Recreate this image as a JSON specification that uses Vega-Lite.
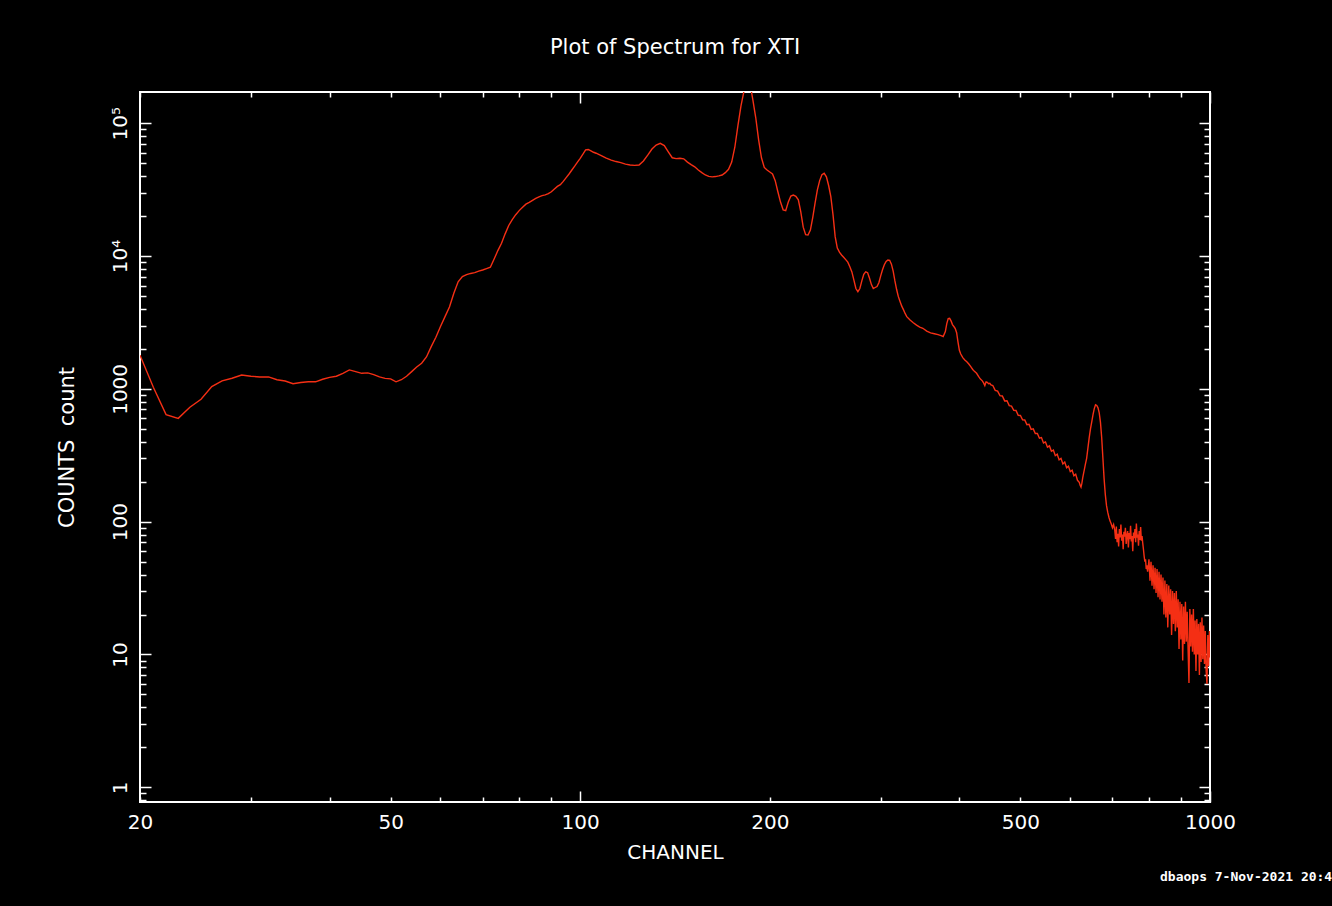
{
  "$schema": "https://vega.github.io/schema/vega-lite/v6.json",
  "width": 1070,
  "height": 710,
  "autosize": {"type": "none"},
  "padding": {"left": 140, "top": 92, "right": 122, "bottom": 104},
  "background": "#000000",
  "config": {
    "view": {"stroke": "#ffffff", "strokeWidth": 2},
    "font": "DejaVu Sans",
    "axis": {
      "domain": false, "grid": false,
      "tickColor": "#ffffff", "tickWidth": 1.5,
      "labelColor": "#ffffff", "labelFont": "DejaVu Sans", "labelFontSize": 20,
      "titleColor": "#ffffff", "titleFont": "DejaVu Sans", "titleFontSize": 20, "titleFontWeight": "normal",
      "labelOverlap": false, "labelFlush": false, "labelBound": false
    }
  },
  "title": {"text": "Plot of Spectrum for XTI", "color": "#ffffff", "fontSize": 21, "fontWeight": "normal", "font": "DejaVu Sans", "anchor": "middle", "baseline": "alphabetic", "offset": 16},
  "datasets": {
    "stamp": [{"note": "dbaops  7-Nov-2021 20:4"}],
    "spectrum": [
      {"channel": 20, "counts": 1790}, {"channel": 21, "counts": 1030}, {"channel": 22, "counts": 640}, {"channel": 23, "counts": 600},
      {"channel": 24, "counts": 727}, {"channel": 25, "counts": 836}, {"channel": 26, "counts": 1040}, {"channel": 27, "counts": 1148},
      {"channel": 28, "counts": 1202}, {"channel": 29, "counts": 1273}, {"channel": 30, "counts": 1245}, {"channel": 31, "counts": 1230},
      {"channel": 32, "counts": 1230}, {"channel": 33, "counts": 1172}, {"channel": 34, "counts": 1147}, {"channel": 35, "counts": 1093},
      {"channel": 36, "counts": 1118}, {"channel": 37, "counts": 1131}, {"channel": 38, "counts": 1131}, {"channel": 39, "counts": 1182},
      {"channel": 40, "counts": 1220}, {"channel": 41, "counts": 1245}, {"channel": 42, "counts": 1310}, {"channel": 43, "counts": 1390},
      {"channel": 44, "counts": 1349}, {"channel": 45, "counts": 1310}, {"channel": 46, "counts": 1320}, {"channel": 47, "counts": 1280},
      {"channel": 48, "counts": 1230}, {"channel": 49, "counts": 1200}, {"channel": 50, "counts": 1190}, {"channel": 51, "counts": 1131},
      {"channel": 52, "counts": 1172}, {"channel": 53, "counts": 1245}, {"channel": 54, "counts": 1349}, {"channel": 55, "counts": 1460},
      {"channel": 56, "counts": 1560}, {"channel": 57, "counts": 1740}, {"channel": 58, "counts": 2080}, {"channel": 59, "counts": 2450},
      {"channel": 60, "counts": 2950}, {"channel": 61, "counts": 3500}, {"channel": 62, "counts": 4140}, {"channel": 63, "counts": 5250},
      {"channel": 64, "counts": 6400}, {"channel": 65, "counts": 7000}, {"channel": 66, "counts": 7250}, {"channel": 67, "counts": 7400},
      {"channel": 68, "counts": 7500}, {"channel": 69, "counts": 7700}, {"channel": 70, "counts": 7860}, {"channel": 71, "counts": 8050},
      {"channel": 72, "counts": 8240}, {"channel": 73, "counts": 9500}, {"channel": 74, "counts": 11000}, {"channel": 75, "counts": 12500},
      {"channel": 76, "counts": 14700}, {"channel": 77, "counts": 17000}, {"channel": 78, "counts": 18800}, {"channel": 79, "counts": 20500},
      {"channel": 80, "counts": 22000}, {"channel": 81, "counts": 23300}, {"channel": 82, "counts": 24600}, {"channel": 83, "counts": 25400},
      {"channel": 84, "counts": 26300}, {"channel": 85, "counts": 27200}, {"channel": 86, "counts": 27900}, {"channel": 87, "counts": 28500},
      {"channel": 88, "counts": 28900}, {"channel": 89, "counts": 29500}, {"channel": 90, "counts": 30500}, {"channel": 91, "counts": 32000},
      {"channel": 92, "counts": 33500}, {"channel": 93, "counts": 34500}, {"channel": 94, "counts": 36500}, {"channel": 95, "counts": 39000},
      {"channel": 96, "counts": 41500}, {"channel": 97, "counts": 44500}, {"channel": 98, "counts": 47500}, {"channel": 99, "counts": 51000},
      {"channel": 100, "counts": 54500}, {"channel": 101, "counts": 58500}, {"channel": 102, "counts": 63000}, {"channel": 103, "counts": 63500},
      {"channel": 104, "counts": 62000}, {"channel": 105, "counts": 60500}, {"channel": 106, "counts": 59500}, {"channel": 108, "counts": 57000},
      {"channel": 110, "counts": 54700}, {"channel": 112, "counts": 52800}, {"channel": 114, "counts": 51500}, {"channel": 116, "counts": 50500},
      {"channel": 118, "counts": 49300}, {"channel": 120, "counts": 48500}, {"channel": 122, "counts": 48200}, {"channel": 124, "counts": 48500},
      {"channel": 126, "counts": 52000}, {"channel": 128, "counts": 57500}, {"channel": 130, "counts": 64000}, {"channel": 132, "counts": 68500},
      {"channel": 134, "counts": 70700}, {"channel": 136, "counts": 68000}, {"channel": 138, "counts": 61000}, {"channel": 140, "counts": 55000},
      {"channel": 142, "counts": 54200}, {"channel": 144, "counts": 54500}, {"channel": 146, "counts": 54000}, {"channel": 148, "counts": 51000},
      {"channel": 150, "counts": 48800}, {"channel": 152, "counts": 47000}, {"channel": 154, "counts": 44500}, {"channel": 156, "counts": 42500},
      {"channel": 158, "counts": 40800}, {"channel": 160, "counts": 39800}, {"channel": 162, "counts": 39500}, {"channel": 164, "counts": 39700},
      {"channel": 166, "counts": 40200}, {"channel": 168, "counts": 40800}, {"channel": 170, "counts": 42500}, {"channel": 172, "counts": 45000},
      {"channel": 174, "counts": 51000}, {"channel": 176, "counts": 66000}, {"channel": 178, "counts": 96000}, {"channel": 180, "counts": 135000},
      {"channel": 182, "counts": 175000}, {"channel": 184, "counts": 205000}, {"channel": 186, "counts": 200000}, {"channel": 188, "counts": 150000},
      {"channel": 190, "counts": 110000}, {"channel": 192, "counts": 75000}, {"channel": 194, "counts": 55000}, {"channel": 196, "counts": 46500},
      {"channel": 198, "counts": 44500}, {"channel": 200, "counts": 43000}, {"channel": 202, "counts": 41500}, {"channel": 204, "counts": 37000},
      {"channel": 206, "counts": 30500}, {"channel": 208, "counts": 25500}, {"channel": 210, "counts": 22300}, {"channel": 212, "counts": 22000},
      {"channel": 214, "counts": 25500}, {"channel": 216, "counts": 28300}, {"channel": 218, "counts": 28800}, {"channel": 220, "counts": 28200},
      {"channel": 222, "counts": 26500}, {"channel": 224, "counts": 21500}, {"channel": 226, "counts": 16500}, {"channel": 228, "counts": 14500},
      {"channel": 230, "counts": 14400}, {"channel": 232, "counts": 15700}, {"channel": 234, "counts": 19500}, {"channel": 236, "counts": 25000},
      {"channel": 238, "counts": 31500}, {"channel": 240, "counts": 37000}, {"channel": 242, "counts": 41000}, {"channel": 244, "counts": 42000},
      {"channel": 246, "counts": 39500}, {"channel": 248, "counts": 34000}, {"channel": 250, "counts": 28000}, {"channel": 252, "counts": 20500},
      {"channel": 254, "counts": 14000}, {"channel": 256, "counts": 11500}, {"channel": 258, "counts": 10700}, {"channel": 260, "counts": 10200},
      {"channel": 262, "counts": 9800}, {"channel": 264, "counts": 9400}, {"channel": 266, "counts": 9000}, {"channel": 268, "counts": 8300},
      {"channel": 270, "counts": 7600}, {"channel": 272, "counts": 6600}, {"channel": 274, "counts": 5700}, {"channel": 276, "counts": 5400},
      {"channel": 278, "counts": 5700}, {"channel": 280, "counts": 6500}, {"channel": 282, "counts": 7300}, {"channel": 284, "counts": 7600},
      {"channel": 286, "counts": 7500}, {"channel": 288, "counts": 6800}, {"channel": 290, "counts": 6100}, {"channel": 292, "counts": 5700},
      {"channel": 294, "counts": 5800}, {"channel": 296, "counts": 5900}, {"channel": 298, "counts": 6300}, {"channel": 300, "counts": 7100},
      {"channel": 302, "counts": 7900}, {"channel": 304, "counts": 8600}, {"channel": 306, "counts": 9100}, {"channel": 308, "counts": 9350},
      {"channel": 310, "counts": 9300}, {"channel": 312, "counts": 8700}, {"channel": 314, "counts": 7700}, {"channel": 316, "counts": 6500},
      {"channel": 318, "counts": 5600}, {"channel": 320, "counts": 4950}, {"channel": 322, "counts": 4550}, {"channel": 324, "counts": 4200},
      {"channel": 326, "counts": 3950}, {"channel": 328, "counts": 3700}, {"channel": 330, "counts": 3500}, {"channel": 334, "counts": 3300},
      {"channel": 338, "counts": 3150}, {"channel": 342, "counts": 3020}, {"channel": 346, "counts": 2920}, {"channel": 350, "counts": 2860},
      {"channel": 355, "counts": 2720}, {"channel": 360, "counts": 2640}, {"channel": 365, "counts": 2600}, {"channel": 370, "counts": 2560},
      {"channel": 374, "counts": 2520}, {"channel": 377, "counts": 2480}, {"channel": 380, "counts": 2700}, {"channel": 382, "counts": 3100},
      {"channel": 384, "counts": 3380}, {"channel": 386, "counts": 3400}, {"channel": 388, "counts": 3250}, {"channel": 390, "counts": 3050},
      {"channel": 392, "counts": 2950}, {"channel": 394, "counts": 2850}, {"channel": 396, "counts": 2650}, {"channel": 398, "counts": 2250},
      {"channel": 400, "counts": 1950}, {"channel": 402, "counts": 1830}, {"channel": 405, "counts": 1720}, {"channel": 408, "counts": 1650},
      {"channel": 411, "counts": 1600}, {"channel": 414, "counts": 1540}, {"channel": 417, "counts": 1470}, {"channel": 420, "counts": 1400},
      {"channel": 423, "counts": 1349}, {"channel": 426, "counts": 1310}, {"channel": 429, "counts": 1240}, {"channel": 432, "counts": 1185},
      {"channel": 435, "counts": 1150}, {"channel": 437, "counts": 1110}, {"channel": 439, "counts": 1060}, {"channel": 441, "counts": 1130},
      {"channel": 443, "counts": 1120}, {"channel": 445, "counts": 1095}, {"channel": 447, "counts": 1100}, {"channel": 449, "counts": 1070},
      {"channel": 452, "counts": 1060}, {"channel": 456, "counts": 975}, {"channel": 460, "counts": 962}, {"channel": 464, "counts": 890},
      {"channel": 468, "counts": 884}, {"channel": 472, "counts": 812}, {"channel": 476, "counts": 815}, {"channel": 480, "counts": 748},
      {"channel": 484, "counts": 741}, {"channel": 488, "counts": 690}, {"channel": 492, "counts": 688}, {"channel": 496, "counts": 632},
      {"channel": 500, "counts": 630}, {"channel": 504, "counts": 585}, {"channel": 508, "counts": 583}, {"channel": 512, "counts": 538},
      {"channel": 516, "counts": 542}, {"channel": 520, "counts": 496}, {"channel": 524, "counts": 500}, {"channel": 528, "counts": 461},
      {"channel": 532, "counts": 462}, {"channel": 536, "counts": 425}, {"channel": 540, "counts": 430}, {"channel": 544, "counts": 392},
      {"channel": 548, "counts": 399}, {"channel": 552, "counts": 364}, {"channel": 556, "counts": 372}, {"channel": 560, "counts": 339},
      {"channel": 564, "counts": 346}, {"channel": 568, "counts": 314}, {"channel": 572, "counts": 322}, {"channel": 576, "counts": 292},
      {"channel": 580, "counts": 300}, {"channel": 584, "counts": 272}, {"channel": 588, "counts": 281}, {"channel": 592, "counts": 255},
      {"channel": 596, "counts": 262}, {"channel": 600, "counts": 238}, {"channel": 604, "counts": 244}, {"channel": 608, "counts": 222},
      {"channel": 612, "counts": 228}, {"channel": 616, "counts": 205}, {"channel": 620, "counts": 198}, {"channel": 622, "counts": 188},
      {"channel": 624, "counts": 182}, {"channel": 626, "counts": 195}, {"channel": 628, "counts": 215}, {"channel": 630, "counts": 232},
      {"channel": 632, "counts": 250}, {"channel": 634, "counts": 270}, {"channel": 637, "counts": 300}, {"channel": 640, "counts": 360},
      {"channel": 643, "counts": 430}, {"channel": 646, "counts": 500}, {"channel": 649, "counts": 565}, {"channel": 652, "counts": 640},
      {"channel": 655, "counts": 710}, {"channel": 658, "counts": 760}, {"channel": 661, "counts": 750}, {"channel": 664, "counts": 720},
      {"channel": 667, "counts": 660}, {"channel": 670, "counts": 560}, {"channel": 673, "counts": 430}, {"channel": 676, "counts": 300},
      {"channel": 679, "counts": 210}, {"channel": 682, "counts": 160}, {"channel": 685, "counts": 132}, {"channel": 688, "counts": 118},
      {"channel": 691, "counts": 108}, {"channel": 694, "counts": 101}, {"channel": 697, "counts": 96}, {"channel": 700, "counts": 90},
      {"channel": 703, "counts": 95}, {"channel": 706, "counts": 86}, {"channel": 708, "counts": 74}, {"channel": 710, "counts": 92},
      {"channel": 712, "counts": 70}, {"channel": 714, "counts": 81}, {"channel": 716, "counts": 65}, {"channel": 718, "counts": 88},
      {"channel": 720, "counts": 76}, {"channel": 722, "counts": 95}, {"channel": 724, "counts": 72}, {"channel": 726, "counts": 80},
      {"channel": 728, "counts": 62}, {"channel": 730, "counts": 84}, {"channel": 732, "counts": 77}, {"channel": 734, "counts": 90},
      {"channel": 736, "counts": 68}, {"channel": 738, "counts": 79}, {"channel": 740, "counts": 85}, {"channel": 742, "counts": 64},
      {"channel": 744, "counts": 82}, {"channel": 746, "counts": 74}, {"channel": 748, "counts": 93}, {"channel": 750, "counts": 71},
      {"channel": 752, "counts": 78}, {"channel": 754, "counts": 60}, {"channel": 756, "counts": 83}, {"channel": 758, "counts": 75},
      {"channel": 760, "counts": 88}, {"channel": 762, "counts": 70}, {"channel": 764, "counts": 97}, {"channel": 766, "counts": 76},
      {"channel": 768, "counts": 80}, {"channel": 770, "counts": 66}, {"channel": 772, "counts": 85}, {"channel": 774, "counts": 73},
      {"channel": 776, "counts": 91}, {"channel": 778, "counts": 72}, {"channel": 780, "counts": 78}, {"channel": 782, "counts": 69},
      {"channel": 784, "counts": 62}, {"channel": 786, "counts": 55}, {"channel": 788, "counts": 50}, {"channel": 790, "counts": 52},
      {"channel": 792, "counts": 44}, {"channel": 794, "counts": 47}, {"channel": 796, "counts": 42}, {"channel": 798, "counts": 46},
      {"channel": 800, "counts": 52}, {"channel": 803, "counts": 36}, {"channel": 806, "counts": 50}, {"channel": 809, "counts": 33},
      {"channel": 812, "counts": 47}, {"channel": 815, "counts": 31}, {"channel": 818, "counts": 45}, {"channel": 821, "counts": 29},
      {"channel": 824, "counts": 44}, {"channel": 827, "counts": 27}, {"channel": 830, "counts": 42}, {"channel": 833, "counts": 26},
      {"channel": 836, "counts": 40}, {"channel": 839, "counts": 25}, {"channel": 842, "counts": 38}, {"channel": 845, "counts": 20},
      {"channel": 848, "counts": 36}, {"channel": 851, "counts": 19}, {"channel": 854, "counts": 34}, {"channel": 857, "counts": 16},
      {"channel": 860, "counts": 33}, {"channel": 863, "counts": 20}, {"channel": 866, "counts": 31}, {"channel": 869, "counts": 14},
      {"channel": 872, "counts": 30}, {"channel": 875, "counts": 17}, {"channel": 878, "counts": 29}, {"channel": 881, "counts": 15},
      {"channel": 884, "counts": 30}, {"channel": 887, "counts": 16}, {"channel": 890, "counts": 26}, {"channel": 893, "counts": 11},
      {"channel": 896, "counts": 25}, {"channel": 899, "counts": 13}, {"channel": 902, "counts": 24}, {"channel": 905, "counts": 9},
      {"channel": 908, "counts": 23}, {"channel": 911, "counts": 12}, {"channel": 914, "counts": 25}, {"channel": 917, "counts": 12.5},
      {"channel": 920, "counts": 21}, {"channel": 923, "counts": 11}, {"channel": 926, "counts": 6.1}, {"channel": 929, "counts": 22},
      {"channel": 932, "counts": 11.5}, {"channel": 935, "counts": 20}, {"channel": 938, "counts": 10.5}, {"channel": 941, "counts": 22},
      {"channel": 944, "counts": 10}, {"channel": 947, "counts": 18}, {"channel": 950, "counts": 7.5}, {"channel": 953, "counts": 18.5},
      {"channel": 956, "counts": 10}, {"channel": 959, "counts": 17}, {"channel": 962, "counts": 7}, {"channel": 965, "counts": 17.5},
      {"channel": 968, "counts": 8.8}, {"channel": 971, "counts": 19}, {"channel": 974, "counts": 9.2}, {"channel": 977, "counts": 16.5},
      {"channel": 980, "counts": 8.5}, {"channel": 983, "counts": 15}, {"channel": 986, "counts": 7.5}, {"channel": 989, "counts": 6},
      {"channel": 992, "counts": 14}, {"channel": 995, "counts": 8.2}, {"channel": 998, "counts": 15}, {"channel": 1000, "counts": 9.5}
    ]
  },
  "layer": [
    {
      "data": {"name": "spectrum"},
      "mark": {"type": "line", "color": "#f52f14", "strokeWidth": 1.4, "clip": true},
      "encoding": {
        "x": {
          "field": "channel", "type": "quantitative",
          "scale": {"type": "log", "domain": [20, 1000], "nice": false, "zero": false},
          "axis": {
            "orient": "bottom",
            "values": [20, 30, 40, 50, 60, 70, 80, 90, 100, 200, 300, 400, 500, 600, 700, 800, 900, 1000],
            "labelExpr": "(datum.value == 20 || datum.value == 50 || datum.value == 100 || datum.value == 200 || datum.value == 500 || datum.value == 1000) ? format(datum.value, 'd') : ''",
            "labelAngle": 0, "labelAlign": "center", "labelBaseline": "top",
            "labelPadding": {"condition": {"test": "abs(log(datum.value)/LN10 - round(log(datum.value)/LN10)) < 0.001", "value": 21}, "value": 15},
            "tickSize": {"condition": {"test": "abs(log(datum.value)/LN10 - round(log(datum.value)/LN10)) < 0.001", "value": -11}, "value": -5},
            "title": "CHANNEL", "titlePadding": 10
          }
        },
        "y": {
          "field": "counts", "type": "quantitative",
          "scale": {"type": "log", "domain": [0.775, 172000], "nice": false, "zero": false},
          "axis": {
            "orient": "left",
            "values": [0.8, 0.9, 1, 2, 3, 4, 5, 6, 7, 8, 9, 10, 20, 30, 40, 50, 60, 70, 80, 90, 100, 200, 300, 400, 500, 600, 700, 800, 900, 1000, 2000, 3000, 4000, 5000, 6000, 7000, 8000, 9000, 10000, 20000, 30000, 40000, 50000, 60000, 70000, 80000, 90000, 100000],
            "labelExpr": "datum.value == 100000 ? '10⁵' : datum.value == 10000 ? '10⁴' : datum.value == 1000 ? '1000' : datum.value == 100 ? '100' : datum.value == 10 ? '10' : datum.value == 1 ? '1' : ''",
            "labelAngle": 270, "labelAlign": "center", "labelBaseline": "alphabetic", "labelPadding": 25,
            "tickSize": {"condition": {"test": "abs(log(datum.value)/LN10 - round(log(datum.value)/LN10)) < 0.001", "value": -11}, "value": -6},
            "title": "COUNTS\u00a0 count", "titleFontSize": 21, "titlePadding": 28
          }
        }
      }
    },
    {
      "data": {"name": "spectrum"},
      "mark": {"type": "line", "opacity": 0, "clip": true},
      "encoding": {
        "x": {
          "field": "channel", "type": "quantitative",
          "scale": {"type": "log", "domain": [20, 1000], "nice": false, "zero": false},
          "axis": {
            "orient": "top", "labels": false, "title": null,
            "values": [20, 30, 40, 50, 60, 70, 80, 90, 100, 200, 300, 400, 500, 600, 700, 800, 900, 1000],
            "tickSize": {"condition": {"test": "abs(log(datum.value)/LN10 - round(log(datum.value)/LN10)) < 0.001", "value": -11}, "value": -5}
          }
        },
        "y": {
          "field": "counts", "type": "quantitative",
          "scale": {"type": "log", "domain": [0.775, 172000], "nice": false, "zero": false},
          "axis": {
            "orient": "right", "labels": false, "title": null,
            "values": [0.8, 0.9, 1, 2, 3, 4, 5, 6, 7, 8, 9, 10, 20, 30, 40, 50, 60, 70, 80, 90, 100, 200, 300, 400, 500, 600, 700, 800, 900, 1000, 2000, 3000, 4000, 5000, 6000, 7000, 8000, 9000, 10000, 20000, 30000, 40000, 50000, 60000, 70000, 80000, 90000, 100000],
            "tickSize": {"condition": {"test": "abs(log(datum.value)/LN10 - round(log(datum.value)/LN10)) < 0.001", "value": -11}, "value": -6}
          }
        }
      }
    },
    {
      "data": {"name": "stamp"},
      "mark": {"type": "text", "align": "left", "baseline": "middle", "dx": -50, "dy": 75, "font": "DejaVu Sans Mono", "fontWeight": "bold", "fontSize": 13, "color": "#ffffff"},
      "encoding": {
        "x": {"datum": 1000, "type": "quantitative", "scale": {"type": "log", "domain": [20, 1000], "nice": false, "zero": false}, "axis": null},
        "y": {"datum": 0.775, "type": "quantitative", "scale": {"type": "log", "domain": [0.775, 172000], "nice": false, "zero": false}, "axis": null},
        "text": {"field": "note"}
      }
    }
  ],
  "resolve": {"axis": {"x": "independent", "y": "independent"}}
}
